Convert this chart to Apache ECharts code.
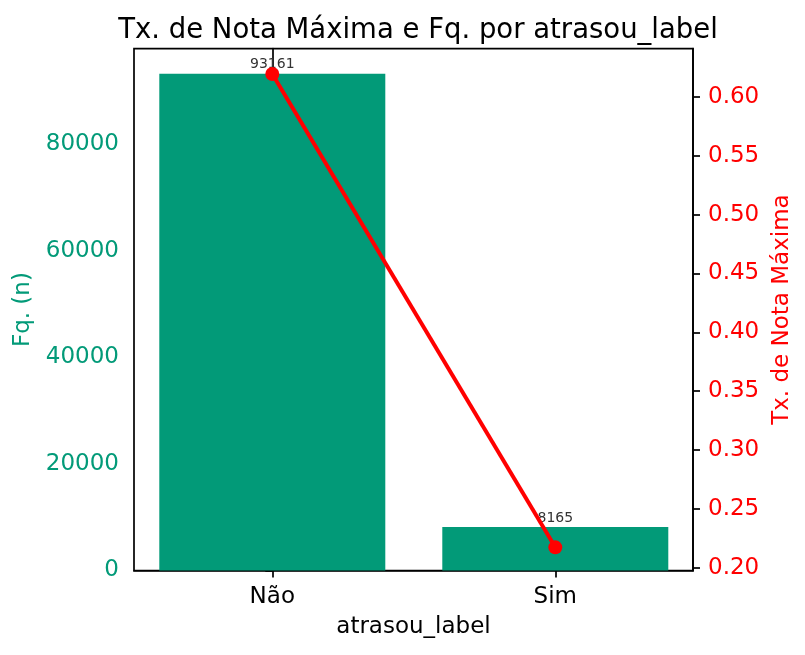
<!DOCTYPE html>
<html>
<head>
<meta charset="utf-8">
<script src="https://cdn.jsdelivr.net/npm/echarts@6/dist/echarts.min.js"></script>
<style>
html,body{margin:0;padding:0;background:#fff;}
#main{width:805px;height:655px;}
</style>
</head>
<body>
<div id="main"></div>
<script>
// ---- data ----
const categories = ['Não', 'Sim'];
const freqValues = [93161, 8165];
const rateValues = [0.6196, 0.2172];
const leftTicks = [0, 20000, 40000, 60000, 80000];
const rightTicks = [0.20, 0.25, 0.30, 0.35, 0.40, 0.45, 0.50, 0.55, 0.60];
const catPositions = [0, 1];

const GREEN = '#029a78';
const RED = '#ff0000';
const FONT = 'DejaVu Sans';
const FS = 23;

const chart = echarts.init(document.getElementById('main'), null, {renderer: 'canvas'});
chart.setOption({
  animation: false,
  backgroundColor: '#ffffff',
  textStyle: {fontFamily: FONT},
  title: {
    text: 'Tx. de Nota Máxima e Fq. por atrasou_label',
    left: 413, top: 12, textAlign: 'center',
    textStyle: {fontFamily: FONT, fontSize: 27.5, fontWeight: 'normal', color: '#000'}
  },
  grid: {
    left: 134, right: 112, top: 48.7, bottom: 84.5,
    show: true, borderColor: '#000', borderWidth: 1.7, backgroundColor: 'transparent'
  },
  xAxis: {
    type: 'value', min: -0.4887, max: 1.4866,
    name: 'atrasou_label', nameLocation: 'middle', nameGap: 45,
    nameTextStyle: {fontFamily: FONT, fontSize: FS, color: '#000'},
    splitLine: {show: false},
    axisLine: {show: true, lineStyle: {color: '#000', width: 1.7}},
    axisTick: {show: true, length: 7, lineStyle: {color: '#000', width: 1.7}, customValues: catPositions},
    axisLabel: {
      customValues: catPositions, margin: 15,
      fontFamily: FONT, fontSize: FS, color: '#000',
      formatter: v => categories[Math.round(v)]
    }
  },
  yAxis: [
    {
      type: 'value', min: 0, max: 97876, position: 'left',
      name: 'Fq. (n)', nameLocation: 'middle', nameGap: 96, nameRotate: 90,
      nameTextStyle: {fontFamily: FONT, fontSize: FS, color: GREEN},
      splitLine: {show: false},
      axisLine: {show: true, lineStyle: {color: '#000', width: 1.7}},
      axisTick: {show: true, length: 7, lineStyle: {color: '#000', width: 1.7}, customValues: leftTicks},
      axisLabel: {customValues: leftTicks, margin: 15, padding: [5, 0, 0, 0], fontFamily: FONT, fontSize: FS, color: GREEN,
        formatter: v => String(Math.round(v))}
    },
    {
      type: 'value', min: 0.1975, max: 0.6411, position: 'right',
      name: 'Tx. de Nota Máxima', nameLocation: 'middle', nameGap: 73, nameRotate: 90,
      nameTextStyle: {fontFamily: FONT, fontSize: FS, color: RED},
      splitLine: {show: false},
      axisLine: {show: true, lineStyle: {color: '#000', width: 1.7}},
      axisTick: {show: true, length: 7, lineStyle: {color: '#000', width: 1.7}, customValues: rightTicks},
      axisLabel: {customValues: rightTicks, margin: 15, padding: [5, 0, 0, 0], fontFamily: FONT, fontSize: FS, color: RED,
        formatter: v => v.toFixed(2)}
    }
  ],
  series: [
    {
      type: 'bar', xAxisIndex: 0, yAxisIndex: 0,
      data: catPositions.map((p, i) => [p, freqValues[i]]),
      barWidth: 226,
      itemStyle: {color: GREEN},
      label: {show: true, position: 'top', distance: 2, fontFamily: FONT, fontSize: 14, color: '#333',
        formatter: p => String(p.value[1])},
      z: 2
    },
    {
      type: 'line', xAxisIndex: 0, yAxisIndex: 1,
      data: catPositions.map((p, i) => [p, rateValues[i]]),
      symbol: 'circle', symbolSize: 14,
      lineStyle: {color: RED, width: 4},
      itemStyle: {color: RED},
      z: 5
    }
  ]
});
</script>
</body>
</html>
